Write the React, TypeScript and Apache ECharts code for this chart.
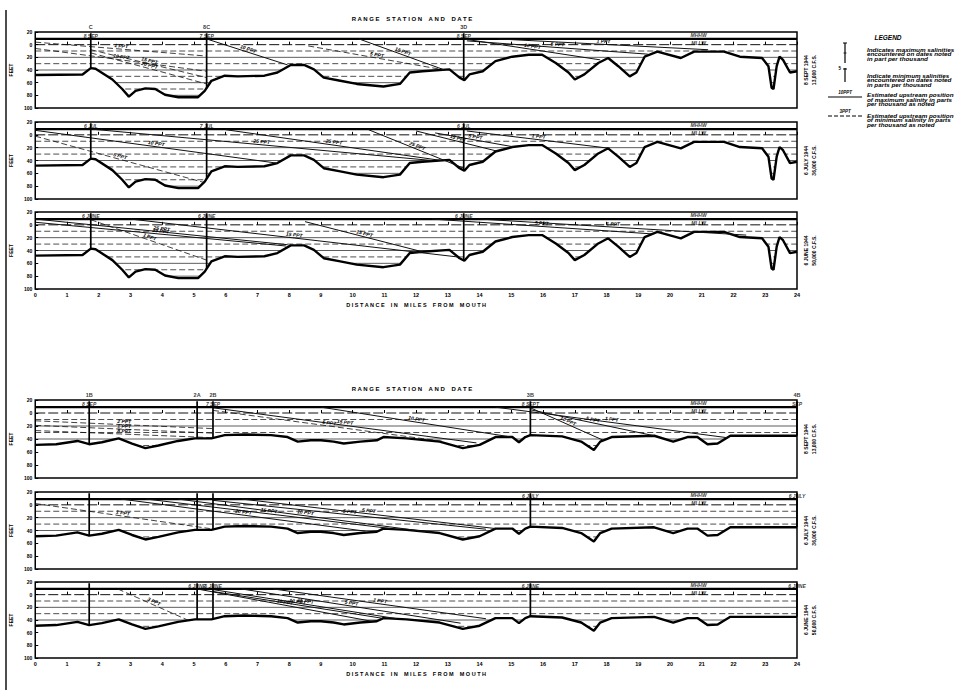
import React, { useEffect, useRef } from "react";
import * as echarts from "echarts";

const FONT = "Liberation Sans, Arial, sans-serif";

// Axes: distance in miles from mouth, elevation in feet
const MILE_MIN = 0;
const MILE_MAX = 24;
const DEPTH_MIN = -100;
const DEPTH_MAX = 20;

// River bed profile, upper sheet (ranges C / 8C / 3D)
const TOP_PROFILE_MILES = [0, 1.49, 1.75, 1.9, 2.43, 2.74, 2.95, 3.16, 3.47, 3.78, 4.09, 4.51, 5.13, 5.34, 5.55, 5.97, 6.38, 7.22, 7.63, 8.05, 8.47, 8.78, 9.09, 9.61, 10.13, 10.97, 11.49, 11.8, 12.2, 13.05, 13.37, 13.52, 13.68, 14.1, 14.5, 15.03, 15.55, 15.97, 16.4, 16.8, 17.0, 17.3, 17.74, 18.05, 18.37, 18.73, 18.94, 19.2, 19.6, 20.34, 20.76, 21.7, 22.2, 22.9, 23.1, 23.2, 23.26, 23.36, 23.45, 23.56, 23.78, 24];
const TOP_PROFILE_DEPTH = [-48, -47, -37, -38, -55, -70, -82, -73, -69, -70, -79, -83, -83, -73, -57, -49, -50, -49, -44, -32, -32, -39, -52, -57, -62, -66, -62, -44, -42, -39, -52, -56, -47, -42, -26, -19, -16, -16, -29, -44, -55, -47, -29, -21, -34, -50, -44, -19, -11, -21, -11, -11, -19, -21, -34, -68, -70, -34, -19, -24, -44, -42];

// River bed profile, lower sheet (ranges 1B / 2A / 2B / 3B / 4B)
const BOTTOM_PROFILE_MILES = [0, 0.66, 1.33, 1.7, 2.1, 2.63, 3.05, 3.47, 3.88, 4.5, 5.03, 5.55, 5.97, 6.6, 7.43, 7.95, 8.27, 8.68, 9.0, 9.4, 9.72, 10.24, 10.76, 10.97, 11.7, 12.74, 13.47, 14.0, 14.5, 15.03, 15.24, 15.44, 15.6, 16.6, 17.2, 17.6, 17.8, 18.16, 19.5, 20.1, 20.55, 20.86, 21.18, 21.5, 21.9, 24];
const BOTTOM_PROFILE_DEPTH = [-49, -48, -43, -48, -45, -39, -47, -54, -50, -43, -39, -39, -34, -33, -34, -37, -44, -42, -42, -44, -47, -44, -42, -37, -39, -44, -54, -49, -37, -37, -45, -37, -34, -36, -44, -57, -44, -37, -35, -44, -37, -37, -48, -47, -35, -35];

// Horizontal water-level lines (MHHW, MLLW and depth lines)
const HLINE_LEVELS = [9, 0, -10, -20, -30, -40, -50, -60, -70, -80];
const HLINE_KINDS = ["thick", "long", "dash", "solid", "dash", "solid", "dash", "solid", "dash", "solid"];

// Stations
const TOP_STATIONS = ["C", "8C", "3D"];
const TOP_STATION_MILES = [1.75, 5.4, 13.5];
const TOP_STATION_BED = [-37, -69, -55];
const BOTTOM_STATIONS = ["1B", "2A", "2B", "3B", "4B"];
const BOTTOM_STATION_MILES = [1.7, 5.1, 5.6, 15.6, 24];
const BOTTOM_STATION_BED = [-48, -39, -39, -34, -35];

const DATES_P1 = ["8 SEP", "7 SEP", "8 SEP"];
const DATES_P2 = ["6 JUL", "7 JUL", "6 JUL"];
const DATES_P3 = ["6 JUNE", "6 JUNE", "6 JUNE"];
const DATES_P4 = ["8 SEP", "", "7 SEP", "8 SEPT", "SEP"];
const DATES_P5 = ["", "", "", "6 JULY", "6 JULY"];
const DATES_P6 = ["", "6 JUNE", "6 JUNE", "6 JUNE", "6 JUNE"];

// Salinity position lines: [mile1, elev1, mile2, elev2, label, s=max (solid) / d=min (dashed)]
type Sal = [number, number, number, number, string, string];
const SALINITY_P1: Sal[] = [
  [0, 4, 5.4, -18, "1 PPT", "d"],
  [0, -6, 5.4, -42, "10 PPT", "d"],
  [1.75, -8, 5.4, -52, "15 PPT", "d"],
  [1.75, -13, 5.4, -62, "20 PPT", "d"],
  [5.4, 9, 7.95, -32, "10 PPT", "s"],
  [10.2, 9, 12.9, -40, "15 PPT", "s"],
  [8.6, -2, 12.9, -40, "5 PPT", "d"],
  [13.5, 9, 17.8, -24, "10 PPT", "s"],
  [13.6, 6, 19.3, -15, "5 PPT", "s"],
  [14.6, 9, 21.2, -8, "1 PPT", "s"],
];
const SALINITY_P2: Sal[] = [
  [0, -2, 5.3, -74, "5 PPT", "d"],
  [0, 7, 7.6, -44, "10 PPT", "s"],
  [1.75, 9, 12.5, -40, "25 PPT", "s"],
  [6.0, 8, 12.8, -40, "25 PPT", "s"],
  [10.5, 8, 13.5, -52, "25 PPT", "s"],
  [12.0, 6, 14.6, -26, "15 PPT", "s"],
  [12.6, 3, 15.1, -19, "5 PPT", "s"],
  [13.6, 6, 18.1, -21, "1 PPT", "s"],
];
const SALINITY_P3: Sal[] = [
  [1.75, 8, 5.4, -55, "1 PPT", "d"],
  [0, 4, 7.9, -33, "25 PPT", "s"],
  [0, 9, 7.95, -31, "25 PPT", "s"],
  [3.0, 9, 13.3, -50, "15 PPT", "s"],
  [8.5, 5, 12.2, -42, "15 PPT", "s"],
  [12.5, 9, 19.4, -14, "5 PPT", "s"],
  [14.0, 9, 22.4, -16, "1 PPT", "s"],
];
const SALINITY_P4: Sal[] = [
  [0, -12, 5.6, -24, "2 PPT", "d"],
  [0, -19, 5.6, -31, "1 PPT", "d"],
  [0, -27, 5.6, -38, "8 PPT", "d"],
  [5.6, 8, 13.9, -46, "15 PPT", "s"],
  [5.6, 4, 12.9, -44, "5 PPT", "d"],
  [9.0, 9, 15.0, -37, "10 PPT", "s"],
  [15.6, 8, 17.9, -42, "10 PPT", "s"],
  [15.6, 5, 19.5, -35, "5 PPT", "s"],
  [14.5, 9, 21.8, -38, "1 PPT", "s"],
];
const SALINITY_P5: Sal[] = [
  [0, 2, 5.5, -37, "1 PPT", "d"],
  [2.7, 9, 10.4, -41, "20 PPT", "s"],
  [3.5, 9, 11.2, -37, "15 PPT", "s"],
  [4.5, 9, 12.5, -43, "10 PPT", "s"],
  [5.6, 7, 14.2, -38, "5 PPT", "s"],
  [6.5, 9, 14.5, -37, "5 PPT", "s"],
];
const SALINITY_P6: Sal[] = [
  [2.6, 9, 4.8, -40, "3 PPT", "d"],
  [5.1, 9, 10.6, -42, "10 PPT", "s"],
  [5.6, 8, 11.4, -38, "15 PPT", "s"],
  [5.6, 5, 10.9, -37, "10 PPT", "s"],
  [6.5, 9, 13.4, -45, "5 PPT", "s"],
  [7.5, 9, 14.2, -38, "1 PPT", "s"],
];

const SIDE_NOTES = [
  ["8 SEPT 1944", "13,000 C.F.S."],
  ["6 JULY 1944", "36,000 C.F.S."],
  ["6 JUNE 1944", "50,000 C.F.S."],
  ["8 SEPT 1944", "13,000 C.F.S."],
  ["6 JULY 1944", "36,000 C.F.S."],
  ["6 JUNE 1944", "50,000 C.F.S."],
];

const GRID_LEFT = 29;
const GRID_WIDTH = 768;
const GRID_TOPS = [32, 122, 212, 400, 492, 582];
const GRID_HEIGHTS = [76, 77, 77, 78, 77, 76];
const INK = "#000";

function hStyle(kind: string) {
  if (kind === "thick") return { color: "#000", width: 2.2, type: "solid" as any };
  if (kind === "long") return { color: "#111", width: 1, type: [10, 3] as any };
  if (kind === "dash") return { color: "#222", width: 0.8, type: [6, 3] as any };
  return { color: "#333", width: 0.8, type: "solid" as any };
}

function buildOption() {
  const grids: any[] = [];
  const xAxes: any[] = [];
  const yAxes: any[] = [];
  const series: any[] = [];
  const graphic: any[] = [];

  const panels = [
    { top: true, sal: SALINITY_P1, dates: DATES_P1 },
    { top: true, sal: SALINITY_P2, dates: DATES_P2 },
    { top: true, sal: SALINITY_P3, dates: DATES_P3 },
    { top: false, sal: SALINITY_P4, dates: DATES_P4 },
    { top: false, sal: SALINITY_P5, dates: DATES_P5 },
    { top: false, sal: SALINITY_P6, dates: DATES_P6 },
  ];

  panels.forEach((p, i) => {
    const showX = i === 2 || i === 5;
    const showNames = i === 0 || i === 3;
    grids.push({
      left: GRID_LEFT, width: GRID_WIDTH, top: GRID_TOPS[i], height: GRID_HEIGHTS[i],
      show: true, borderColor: INK, borderWidth: 1.5, backgroundColor: "transparent", z: 10,
    });
    xAxes.push({
      gridIndex: i, type: "value", min: MILE_MIN, max: MILE_MAX, interval: 1, z: 10,
      axisLine: { show: false },
      axisTick: { show: true, inside: true, length: 3, lineStyle: { color: INK, width: 1 } },
      axisLabel: { show: showX, fontSize: 5.5, fontWeight: "bold", color: INK, margin: 3, fontFamily: FONT },
      splitLine: { show: false },
      name: showX ? "D I S T A N C E    I N    M I L E S    F R O M    M O U T H" : "",
      nameLocation: "middle", nameGap: 13,
      nameTextStyle: { fontSize: 5.5, fontWeight: "bold", color: INK, fontFamily: FONT },
    });
    yAxes.push({
      gridIndex: i, type: "value", min: DEPTH_MIN, max: DEPTH_MAX, interval: 20, z: 10,
      axisLine: { show: false },
      axisTick: { show: true, inside: true, length: 3, lineStyle: { color: INK } },
      axisLabel: { fontSize: 5, fontWeight: "bold", color: INK, margin: 3, fontFamily: FONT, formatter: (v: number) => String(Math.abs(v)) },
      splitLine: { show: false },
      name: "FEET", nameLocation: "middle", nameGap: 15, nameRotate: 90,
      nameTextStyle: { fontSize: 5, fontWeight: "bold", color: INK, fontFamily: FONT },
    });

    HLINE_LEVELS.forEach((lvl, j) => {
      series.push({
        type: "line", xAxisIndex: i, yAxisIndex: i, silent: true, z: 1, symbol: "none",
        data: [[MILE_MIN, lvl], [MILE_MAX, lvl]],
        lineStyle: hStyle(HLINE_KINDS[j]),
      });
    });

    const miles = p.top ? TOP_PROFILE_MILES : BOTTOM_PROFILE_MILES;
    const depth = p.top ? TOP_PROFILE_DEPTH : BOTTOM_PROFILE_DEPTH;
    series.push({
      type: "line", xAxisIndex: i, yAxisIndex: i, silent: true, z: 3, symbol: "none",
      data: miles.map((m, k) => [m, depth[k]]),
      lineStyle: { color: INK, width: 2.4 },
      areaStyle: { color: "#fff", opacity: 1, origin: "start" },
      markLine: {
        silent: true, symbol: ["none", "none"], z: 5,
        lineStyle: { color: "#111", width: 0.9 },
        label: { show: true, position: "insideMiddleTop", distance: 1, fontSize: 5, fontWeight: "bold", fontStyle: "italic", color: INK, fontFamily: FONT },
        data: p.sal.map((s) => [
          { coord: [s[0], s[1]], lineStyle: { type: s[5] === "d" ? [6, 3] : "solid", width: s[5] === "d" ? 0.8 : 1 }, label: { formatter: s[4] } },
          { coord: [s[2], s[3]] },
        ]),
      },
    });

    const stMiles = p.top ? TOP_STATION_MILES : BOTTOM_STATION_MILES;
    const stBed = p.top ? TOP_STATION_BED : BOTTOM_STATION_BED;
    const stNames = p.top ? TOP_STATIONS : BOTTOM_STATIONS;
    stMiles.forEach((m, k) => {
      series.push({
        type: "line", xAxisIndex: i, yAxisIndex: i, silent: true, z: 6, symbol: "none",
        data: [[m, 18], [m, stBed[k]]],
        lineStyle: { color: INK, width: 1.7 },
      });
    });

    const labelItems: any[] = [];
    stMiles.forEach((m, k) => {
      if (showNames) labelItems.push({ value: [m, DEPTH_MAX], label: { position: "top", distance: 2, formatter: stNames[k], fontStyle: "normal", fontSize: 5.5 } });
      if (p.dates[k]) labelItems.push({ value: [m, DEPTH_MAX], label: { position: "bottom", distance: 1, formatter: p.dates[k] } });
    });
    labelItems.push({ value: [20.9, 9], label: { position: "top", distance: 1, formatter: "MHHW" } });
    labelItems.push({ value: [20.9, 9], label: { position: "bottom", distance: 1, formatter: "MLLW" } });
    series.push({
      type: "scatter", xAxisIndex: i, yAxisIndex: i, silent: true, z: 8, symbolSize: 1,
      itemStyle: { color: "rgba(0,0,0,0)" },
      label: { show: true, fontSize: 5, fontWeight: "bold", fontStyle: "italic", color: INK, fontFamily: FONT },
      data: labelItems,
    });

    const cy = GRID_TOPS[i] + GRID_HEIGHTS[i] / 2;
    SIDE_NOTES[i].forEach((t, k) => {
      graphic.push({
        type: "text", x: 806 + k * 8, y: cy, rotation: Math.PI / 2,
        style: { text: t, fontSize: 5, fontWeight: "bold", fill: INK, fontFamily: FONT, align: "center", verticalAlign: "middle" },
      });
    });
  });

  const titleStyle = { fontSize: 6, fontWeight: "bold", fill: INK, fontFamily: FONT, align: "center", verticalAlign: "middle" };
  graphic.push({ type: "line", shape: { x1: 6, y1: 10, x2: 6, y2: 690 }, style: { stroke: INK, lineWidth: 1.4 } });
  graphic.push({ type: "text", x: 412, y: 19, style: { ...titleStyle, text: "R A N G E    S T A T I O N    A N D    D A T E" } });
  graphic.push({ type: "text", x: 412, y: 389, style: { ...titleStyle, text: "R A N G E    S T A T I O N    A N D    D A T E" } });

  const lg = { fontSize: 5.5, fontWeight: "bold", fontStyle: "italic", fill: INK, fontFamily: FONT, align: "left", verticalAlign: "top", lineHeight: 4.6 };
  const sm = { fontSize: 4.5, fontWeight: "bold", fontStyle: "italic", fill: INK, fontFamily: FONT, align: "center", verticalAlign: "bottom" };
  graphic.push({ type: "text", x: 888, y: 37, style: { ...lg, text: "LEGEND", fontSize: 6.5, align: "center", verticalAlign: "middle" } });
  graphic.push({ type: "text", x: 867, y: 47.5, scaleX: 1.15, style: { ...lg, text: "Indicates maximum salinities\nencountered on dates noted\nin part per thousand" } });
  graphic.push({ type: "text", x: 867, y: 73.5, scaleX: 1.15, style: { ...lg, text: "Indicate minimum salinities\nencountered on dates noted\nin parts per thousand" } });
  graphic.push({ type: "text", x: 867, y: 93, scaleX: 1.15, style: { ...lg, text: "Estimated upstream position\nof maximum salinity in parts\nper thousand as noted" } });
  graphic.push({ type: "text", x: 867, y: 113.5, scaleX: 1.15, style: { ...lg, text: "Estimated upstream position\nof minimum salinity in parts\nper thousand as noted" } });
  graphic.push({ type: "line", shape: { x1: 845, y1: 43, x2: 845, y2: 63 }, style: { stroke: INK, lineWidth: 1.2 } });
  graphic.push({ type: "line", shape: { x1: 843, y1: 43, x2: 847, y2: 43 }, style: { stroke: INK, lineWidth: 1 } });
  graphic.push({ type: "line", shape: { x1: 843.5, y1: 53, x2: 846.5, y2: 53 }, style: { stroke: INK, lineWidth: 0.8 } });
  graphic.push({ type: "line", shape: { x1: 845, y1: 68, x2: 845, y2: 82 }, style: { stroke: INK, lineWidth: 1.2 } });
  graphic.push({ type: "line", shape: { x1: 843, y1: 69, x2: 847, y2: 69 }, style: { stroke: INK, lineWidth: 1 } });
  graphic.push({ type: "text", x: 841, y: 68, style: { ...sm, text: "5", fontStyle: "normal", align: "right", verticalAlign: "middle" } });
  graphic.push({ type: "line", shape: { x1: 828, y1: 97, x2: 862, y2: 97 }, style: { stroke: INK, lineWidth: 1 } });
  graphic.push({ type: "text", x: 845, y: 94.5, style: { ...sm, text: "10PPT" } });
  graphic.push({ type: "line", shape: { x1: 828, y1: 116, x2: 862, y2: 116 }, style: { stroke: INK, lineWidth: 1, lineDash: [4, 2] } });
  graphic.push({ type: "text", x: 845, y: 113.5, style: { ...sm, text: "3PPT" } });

  return {
    animation: false,
    backgroundColor: "#fff",
    textStyle: { fontFamily: FONT },
    grid: grids,
    xAxis: xAxes,
    yAxis: yAxes,
    series,
    graphic,
  };
}

export default function App() {
  const ref = useRef<HTMLDivElement>(null);
  useEffect(() => {
    if (!ref.current) return;
    const chart = echarts.init(ref.current, undefined, { renderer: "svg" });
    chart.setOption(buildOption() as any);
    return () => chart.dispose();
  }, []);
  return <div ref={ref} style={{ position: "absolute", left: 0, top: 0, width: 971, height: 693, background: "#fff" }} />;
}
